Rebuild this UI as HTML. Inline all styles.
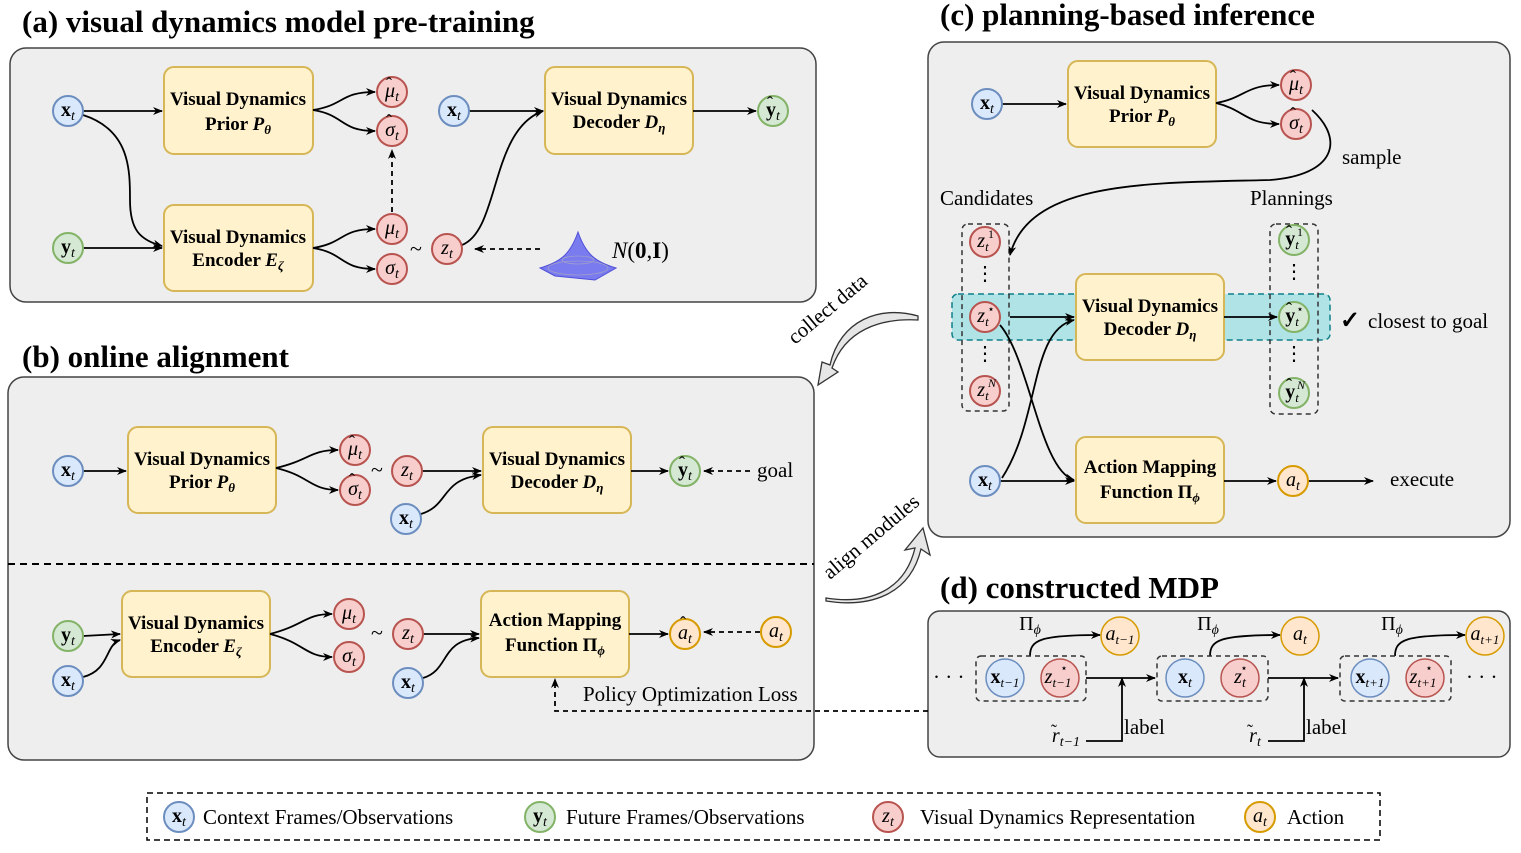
<!DOCTYPE html>
<html><head><meta charset="utf-8"><style>
html,body{margin:0;padding:0;background:#fff}
svg{display:block}
text{font-family:"Liberation Serif",serif;fill:#000}
.t{font-size:31px;font-weight:bold}
.bx{font-size:19px;font-weight:bold}
.n{font-size:21px}
.c{font-size:20px;text-anchor:middle}
.i{font-style:italic}
.b{font-weight:bold}
.h{font-size:18px;text-anchor:middle}
</style></head><body>
<svg width="1521" height="853" viewBox="0 0 1521 853" xmlns="http://www.w3.org/2000/svg">
<defs>
<marker id="a" markerWidth="10" markerHeight="10" refX="9" refY="5" orient="auto" markerUnits="userSpaceOnUse"><path d="M0,1 L10,5 L0,9 L3,5z" fill="#000"/></marker>
<g id="xb"><circle r="15" fill="#dae8fc" stroke="#6c8ebf" stroke-width="2"/></g>
<g id="gr"><circle r="15" fill="#d5e8d4" stroke="#82b366" stroke-width="2"/></g>
<g id="rd"><circle r="15" fill="#f8cecc" stroke="#b85450" stroke-width="2"/></g>
<g id="or"><circle r="15" fill="#ffe6cc" stroke="#d79b00" stroke-width="2"/></g>
</defs>
<!-- panels -->
<rect x="10" y="48" width="806" height="254" rx="16" fill="#eeeeee" stroke="#444" stroke-width="1.5"/>
<rect x="8" y="377" width="806" height="383" rx="16" fill="#eeeeee" stroke="#444" stroke-width="1.5"/>
<rect x="928" y="42" width="582" height="495" rx="16" fill="#eeeeee" stroke="#444" stroke-width="1.5"/>
<rect x="928" y="611" width="582" height="146" rx="12" fill="#eeeeee" stroke="#444" stroke-width="1.5"/>
<text class="t" x="22" y="32">(a) visual dynamics model pre-training</text>
<text class="t" x="22" y="367">(b) online alignment</text>
<text class="t" x="940" y="25">(c) planning-based inference</text>
<text class="t" x="940" y="598">(d) constructed MDP</text>
<line x1="8" y1="564" x2="814" y2="564" stroke="#000" stroke-width="2" stroke-dasharray="7,5"/>

<g fill="#fff2cc" stroke="#d6b656" stroke-width="2">
<rect x="164" y="67" width="149" height="87" rx="10"/>
<rect x="164" y="205" width="149" height="86" rx="10"/>
<rect x="545" y="67" width="148" height="87" rx="10"/>
<rect x="128" y="427" width="148" height="86" rx="10"/>
<rect x="483" y="427" width="148" height="86" rx="10"/>
<rect x="122" y="591" width="148" height="86" rx="10"/>
<rect x="481" y="591" width="148" height="86" rx="10"/>
<rect x="1068" y="61" width="148" height="86" rx="10"/>
</g>
<g text-anchor="middle">
<text x="238" y="105" class="bx">Visual Dynamics</text><text x="238" y="130" class="bx">Prior <tspan font-style="italic">P</tspan><tspan font-style="italic" font-size="13" dy="4">θ</tspan></text>
<text x="238" y="243" class="bx">Visual Dynamics</text><text x="238" y="266" class="bx">Encoder <tspan font-style="italic">E</tspan><tspan font-style="italic" font-size="13" dy="4">ζ</tspan></text>
<text x="619" y="105" class="bx">Visual Dynamics</text><text x="619" y="128" class="bx">Decoder <tspan font-style="italic">D</tspan><tspan font-style="italic" font-size="13" dy="4">η</tspan></text>
<text x="202" y="465" class="bx">Visual Dynamics</text><text x="202" y="488" class="bx">Prior <tspan font-style="italic">P</tspan><tspan font-style="italic" font-size="13" dy="4">θ</tspan></text>
<text x="557" y="465" class="bx">Visual Dynamics</text><text x="557" y="488" class="bx">Decoder <tspan font-style="italic">D</tspan><tspan font-style="italic" font-size="13" dy="4">η</tspan></text>
<text x="196" y="629" class="bx">Visual Dynamics</text><text x="196" y="652" class="bx">Encoder <tspan font-style="italic">E</tspan><tspan font-style="italic" font-size="13" dy="4">ζ</tspan></text>
<text x="555" y="626" class="bx">Action Mapping</text><text x="555" y="651" class="bx">Function Π<tspan font-style="italic" font-size="13" dy="4">ϕ</tspan></text>
<text x="1142" y="99" class="bx">Visual Dynamics</text><text x="1142" y="122" class="bx">Prior <tspan font-style="italic">P</tspan><tspan font-style="italic" font-size="13" dy="4">θ</tspan></text>
</g>

<rect x="952" y="294" width="378" height="46" rx="6" fill="#b0e3e6" stroke="#0e8088" stroke-width="1.5" stroke-dasharray="6,4"/>
<rect x="962" y="224" width="47" height="187" rx="6" fill="none" stroke="#333" stroke-width="1.5" stroke-dasharray="5,4"/>
<rect x="1270" y="224" width="48" height="190" rx="6" fill="none" stroke="#333" stroke-width="1.5" stroke-dasharray="5,4"/>
<g fill="#fff2cc" stroke="#d6b656" stroke-width="2">
<rect x="1076" y="274" width="148" height="86" rx="10"/>
<rect x="1076" y="437" width="148" height="86" rx="10"/>
</g>
<g text-anchor="middle">
<text x="1150" y="312" class="bx">Visual Dynamics</text><text x="1150" y="335" class="bx">Decoder <tspan font-style="italic">D</tspan><tspan font-style="italic" font-size="13" dy="4">η</tspan></text>
<text x="1150" y="473" class="bx">Action Mapping</text><text x="1150" y="498" class="bx">Function Π<tspan font-style="italic" font-size="13" dy="4">ϕ</tspan></text>
</g>

<g fill="none" stroke="#000" stroke-width="1.8" marker-end="url(#a)">
<path d="M83,111 L162,111"/>
<path d="M83,115 C130,130 130,170 130,200 C130,230 140,240 162,246"/>
<path d="M83,248 L162,248"/>
<path d="M313,110 C345,105 340,92 375,92"/>
<path d="M313,110 C345,115 340,131 375,131"/>
<path d="M313,248 C345,243 340,229 375,229"/>
<path d="M313,248 C345,253 340,269 375,269"/>
<path d="M392,212 L392,150" stroke-dasharray="5,4"/>
<path d="M462,245 C500,230 490,130 543,111"/>
<path d="M469,111 L543,111"/>
<path d="M693,111 L756,111"/>
<path d="M540,249 L475,249" stroke-dasharray="5,4"/>
<path d="M83,471 L126,471"/>
<path d="M276,468 C310,460 310,450 338,450"/>
<path d="M276,468 C310,476 310,490 338,490"/>
<path d="M422,471 L481,471"/>
<path d="M421,514 C450,505 440,480 481,475"/>
<path d="M631,471 L668,471"/>
<path d="M750,471 L704,471" stroke-dasharray="5,4"/>
<path d="M83,636 L120,634"/>
<path d="M83,677 C110,670 105,645 120,640"/>
<path d="M270,634 C305,625 305,614 332,614"/>
<path d="M270,634 C305,643 305,657 332,657"/>
<path d="M423,634 L479,634"/>
<path d="M423,678 C450,670 440,640 479,638"/>
<path d="M629,634 L668,634"/>
<path d="M760,632 L704,632" stroke-dasharray="5,4"/>
<path d="M928,711 L555,711 L555,679" stroke-dasharray="5,4"/>
<path d="M1002,104 L1066,104"/>
<path d="M1216,103 C1245,98 1245,85 1279,85"/>
<path d="M1216,103 C1245,110 1245,124 1279,124"/>
<path d="M1312,110 C1345,140 1335,175 1270,180 C1150,183 1030,180 1010,255"/>
<path d="M1010,317 L1074,317"/>
<path d="M1002,478 C1040,420 1030,330 1074,320"/>
<path d="M1000,325 C1030,360 1040,470 1074,480"/>
<path d="M1000,481 L1074,481"/>
<path d="M1224,317 L1277,317"/>
<path d="M1224,481 L1276,481"/>
<path d="M1308,481 L1373,481"/>
<path d="M1086,678 L1155,678"/>
<path d="M1268,678 L1338,678"/>
<path d="M1086,741 L1122,741 L1122,678"/>
<path d="M1268,741 L1304,741 L1304,678"/>
<path d="M1030,656 C1030,640 1040,635 1100,635"/>
<path d="M1210,656 C1210,640 1220,635 1280,635"/>
<path d="M1395,656 C1395,640 1405,635 1465,635"/>
</g>

<path d="M918,316 C880,305 840,320 830,365 L822,362 L818,385 L838,372 L832,368 C845,330 880,318 918,320 Z" fill="#e6e6e6" stroke="#333" stroke-width="1.3"/>
<path d="M826,598 C870,605 905,590 915,548 L905,550 L923,528 L930,555 L921,549 C910,595 870,608 826,601 Z" fill="#e6e6e6" stroke="#333" stroke-width="1.3"/>
<text class="n" x="795" y="345" transform="rotate(-40 795 345)">collect data</text>
<text class="n" x="830" y="580" transform="rotate(-40 830 580)">align modules</text>

<path d="M540,268 C560,262 570,255 578,232 C586,255 596,262 616,268 L595,280 L555,276 Z" fill="#7b7bf0" stroke="#4f4fd8" stroke-width="1"/>
<g fill="none" stroke="#aab" stroke-width="0.6"><ellipse cx="578" cy="268" rx="30" ry="7"/><ellipse cx="578" cy="260" rx="16" ry="4"/></g>
<text x="612" y="258" font-size="23"><tspan font-style="italic">N</tspan>(<tspan font-weight="bold">0</tspan>,<tspan font-weight="bold">I</tspan>)</text>

<use href="#xb" x="68" y="111"/><use href="#gr" x="68" y="248"/>
<use href="#rd" x="392" y="92"/><use href="#rd" x="392" y="131"/><use href="#rd" x="392" y="229"/><use href="#rd" x="392" y="269"/>
<use href="#rd" x="447" y="249"/><use href="#xb" x="454" y="111"/><use href="#gr" x="773" y="111"/>
<use href="#xb" x="68" y="471"/><use href="#rd" x="355" y="450"/><use href="#rd" x="355" y="490"/><use href="#rd" x="407" y="471"/><use href="#xb" x="406" y="519"/><use href="#gr" x="685" y="471"/>
<use href="#gr" x="68" y="636"/><use href="#xb" x="68" y="681"/><use href="#rd" x="349" y="614"/><use href="#rd" x="349" y="657"/><use href="#rd" x="408" y="634"/><use href="#xb" x="408" y="683"/><use href="#or" x="685" y="634"/><use href="#or" x="776" y="632"/>
<use href="#xb" x="987" y="104"/><use href="#rd" x="1296" y="85"/><use href="#rd" x="1296" y="124"/>
<use href="#rd" x="985" y="242"/><use href="#rd" x="985" y="317"/><use href="#rd" x="985" y="391"/>
<use href="#gr" x="1294" y="240"/><use href="#gr" x="1294" y="317"/><use href="#gr" x="1294" y="393"/>
<use href="#xb" x="985" y="481"/><use href="#or" x="1293" y="481"/>

<!-- circle labels: x/y bold, greek/latin italic, subscript -->
<g class="c">
<text x="68" y="116"><tspan class="b">x</tspan><tspan class="i" font-size="14" dy="4">t</tspan></text>
<text x="68" y="253"><tspan class="b">y</tspan><tspan class="i" font-size="14" dy="4">t</tspan></text>
<text x="392" y="97" class="i">μ<tspan font-size="14" dy="4">t</tspan></text>
<text x="392" y="136" class="i">σ<tspan font-size="14" dy="4">t</tspan></text>
<text x="392" y="234" class="i">μ<tspan font-size="14" dy="4">t</tspan></text>
<text x="392" y="274" class="i">σ<tspan font-size="14" dy="4">t</tspan></text>
<text x="447" y="254" class="i">z<tspan font-size="14" dy="4">t</tspan></text>
<text x="454" y="116"><tspan class="b">x</tspan><tspan class="i" font-size="14" dy="4">t</tspan></text>
<text x="773" y="116"><tspan class="b">y</tspan><tspan class="i" font-size="14" dy="4">t</tspan></text>
<text x="68" y="476"><tspan class="b">x</tspan><tspan class="i" font-size="14" dy="4">t</tspan></text>
<text x="355" y="455" class="i">μ<tspan font-size="14" dy="4">t</tspan></text>
<text x="355" y="495" class="i">σ<tspan font-size="14" dy="4">t</tspan></text>
<text x="407" y="476" class="i">z<tspan font-size="14" dy="4">t</tspan></text>
<text x="406" y="524"><tspan class="b">x</tspan><tspan class="i" font-size="14" dy="4">t</tspan></text>
<text x="685" y="476"><tspan class="b">y</tspan><tspan class="i" font-size="14" dy="4">t</tspan></text>
<text x="68" y="641"><tspan class="b">y</tspan><tspan class="i" font-size="14" dy="4">t</tspan></text>
<text x="68" y="686"><tspan class="b">x</tspan><tspan class="i" font-size="14" dy="4">t</tspan></text>
<text x="349" y="619" class="i">μ<tspan font-size="14" dy="4">t</tspan></text>
<text x="349" y="662" class="i">σ<tspan font-size="14" dy="4">t</tspan></text>
<text x="408" y="639" class="i">z<tspan font-size="14" dy="4">t</tspan></text>
<text x="408" y="688"><tspan class="b">x</tspan><tspan class="i" font-size="14" dy="4">t</tspan></text>
<text x="685" y="639" class="i">a<tspan font-size="14" dy="4">t</tspan></text>
<text x="776" y="637" class="i">a<tspan font-size="14" dy="4">t</tspan></text>
<text x="987" y="109"><tspan class="b">x</tspan><tspan class="i" font-size="14" dy="4">t</tspan></text>
<text x="1296" y="90" class="i">μ<tspan font-size="14" dy="4">t</tspan></text>
<text x="1296" y="129" class="i">σ<tspan font-size="14" dy="4">t</tspan></text>
<text x="983" y="247" class="i">z<tspan font-size="13" dy="4">t</tspan></text>
<text x="983" y="322" class="i">z<tspan font-size="13" dy="4">t</tspan></text>
<text x="983" y="396" class="i">z<tspan font-size="13" dy="4">t</tspan></text>
<text x="1292" y="245"><tspan class="b">y</tspan><tspan class="i" font-size="13" dy="4">t</tspan></text>
<text x="1292" y="322"><tspan class="b">y</tspan><tspan class="i" font-size="13" dy="4">t</tspan></text>
<text x="1292" y="398"><tspan class="b">y</tspan><tspan class="i" font-size="13" dy="4">t</tspan></text>
<text x="985" y="486"><tspan class="b">x</tspan><tspan class="i" font-size="14" dy="4">t</tspan></text>
<text x="1293" y="486" class="i">a<tspan font-size="14" dy="4">t</tspan></text>
</g>
<!-- superscripts -->
<g font-size="12" text-anchor="middle">
<text x="991" y="238">1</text><text x="991" y="313">⋆</text><text x="992" y="387" class="i">N</text>
<text x="1300" y="236">1</text><text x="1300" y="313">⋆</text><text x="1301" y="389" class="i">N</text>
</g>
<!-- hats -->
<g class="h">
<text x="389" y="90">ˆ</text><text x="389" y="127">ˆ</text>
<text x="770" y="109">ˆ</text>
<text x="352" y="448">ˆ</text><text x="352" y="486">ˆ</text>
<text x="682" y="469">ˆ</text><text x="683" y="629">ˆ</text>
<text x="1293" y="83">ˆ</text><text x="1293" y="120">ˆ</text>
<text x="1289" y="238">ˆ</text><text x="1289" y="315">ˆ</text><text x="1289" y="391">ˆ</text>
</g>
<g font-size="20" text-anchor="middle"><text x="985" y="280">⋮</text><text x="985" y="360">⋮</text><text x="1294" y="278">⋮</text><text x="1294" y="360">⋮</text></g>
<g font-size="22"><text x="371" y="477">~</text><text x="410" y="256">~</text><text x="371" y="640">~</text></g>
<text class="n" x="757" y="477">goal</text>
<text class="n" x="583" y="701">Policy Optimization Loss</text>
<text class="n" x="1342" y="164">sample</text>
<text class="n" x="940" y="205">Candidates</text>
<text class="n" x="1250" y="205">Plannings</text>
<text x="1340" y="328" font-size="24" font-weight="bold">✓</text>
<text class="n" x="1368" y="328">closest to goal</text>
<text class="n" x="1390" y="486">execute</text>

<g fill="none" stroke="#333" stroke-width="1.5" stroke-dasharray="5,4">
<rect x="976" y="656" width="110" height="45" rx="5"/><rect x="1157" y="656" width="111" height="45" rx="5"/><rect x="1340" y="656" width="111" height="45" rx="5"/>
</g>
<g stroke-width="1.5">
<circle cx="1005" cy="678" r="19" fill="#dae8fc" stroke="#6c8ebf"/><circle cx="1060" cy="678" r="19" fill="#f8cecc" stroke="#b85450"/>
<circle cx="1185" cy="678" r="19" fill="#dae8fc" stroke="#6c8ebf"/><circle cx="1240" cy="678" r="19" fill="#f8cecc" stroke="#b85450"/>
<circle cx="1370" cy="678" r="19" fill="#dae8fc" stroke="#6c8ebf"/><circle cx="1425" cy="678" r="19" fill="#f8cecc" stroke="#b85450"/>
<circle cx="1120" cy="636" r="19" fill="#ffe6cc" stroke="#d79b00"/><circle cx="1300" cy="636" r="19" fill="#ffe6cc" stroke="#d79b00"/><circle cx="1485" cy="636" r="19" fill="#ffe6cc" stroke="#d79b00"/>
</g>
<g class="c">
<text x="1005" y="683"><tspan class="b">x</tspan><tspan class="i" font-size="13" dy="4">t−1</tspan></text>
<text x="1058" y="683" class="i">z<tspan font-size="13" dy="4">t−1</tspan></text>
<text x="1185" y="683"><tspan class="b">x</tspan><tspan class="i" font-size="14" dy="4">t</tspan></text>
<text x="1240" y="683" class="i">z<tspan font-size="14" dy="4">t</tspan></text>
<text x="1370" y="683"><tspan class="b">x</tspan><tspan class="i" font-size="13" dy="4">t+1</tspan></text>
<text x="1423" y="683" class="i">z<tspan font-size="13" dy="4">t+1</tspan></text>
<text x="1120" y="640" class="i">a<tspan font-size="13" dy="4">t−1</tspan></text>
<text x="1300" y="640" class="i">a<tspan font-size="14" dy="4">t</tspan></text>
<text x="1485" y="640" class="i">a<tspan font-size="13" dy="4">t+1</tspan></text>
<text x="1030" y="630">Π<tspan class="i" font-size="14" dy="4">ϕ</tspan></text>
<text x="1208" y="630">Π<tspan class="i" font-size="14" dy="4">ϕ</tspan></text>
<text x="1392" y="630">Π<tspan class="i" font-size="14" dy="4">ϕ</tspan></text>
<text x="1066" y="742" class="i">r<tspan font-size="14" dy="4">t−1</tspan></text>
<text x="1255" y="742" class="i">r<tspan font-size="14" dy="4">t</tspan></text>
</g>
<g font-size="12" text-anchor="middle"><text x="1064" y="672">⋆</text><text x="1244" y="672">⋆</text><text x="1429" y="672">⋆</text></g>
<g class="h"><text x="1054" y="737">˜</text><text x="1250" y="737">˜</text></g>
<text class="n" x="1124" y="734">label</text><text class="n" x="1306" y="734">label</text>
<text class="n" x="933" y="684">· · ·</text><text class="n" x="1466" y="684">· · ·</text>

<rect x="147" y="793" width="1233" height="47" fill="none" stroke="#000" stroke-width="1.5" stroke-dasharray="6,4"/>
<use href="#xb" x="179" y="817"/><use href="#gr" x="540" y="817"/><use href="#rd" x="888" y="817"/><use href="#or" x="1260" y="817"/>
<g class="c">
<text x="179" y="822"><tspan class="b">x</tspan><tspan class="i" font-size="14" dy="4">t</tspan></text>
<text x="540" y="822"><tspan class="b">y</tspan><tspan class="i" font-size="14" dy="4">t</tspan></text>
<text x="888" y="822" class="i">z<tspan font-size="14" dy="4">t</tspan></text>
<text x="1260" y="822" class="i">a<tspan font-size="14" dy="4">t</tspan></text>
</g>
<text class="n" x="203" y="824">Context Frames/Observations</text>
<text class="n" x="566" y="824">Future Frames/Observations</text>
<text class="n" x="920" y="824">Visual Dynamics Representation</text>
<text class="n" x="1287" y="824">Action</text>
</svg>
</body></html>
